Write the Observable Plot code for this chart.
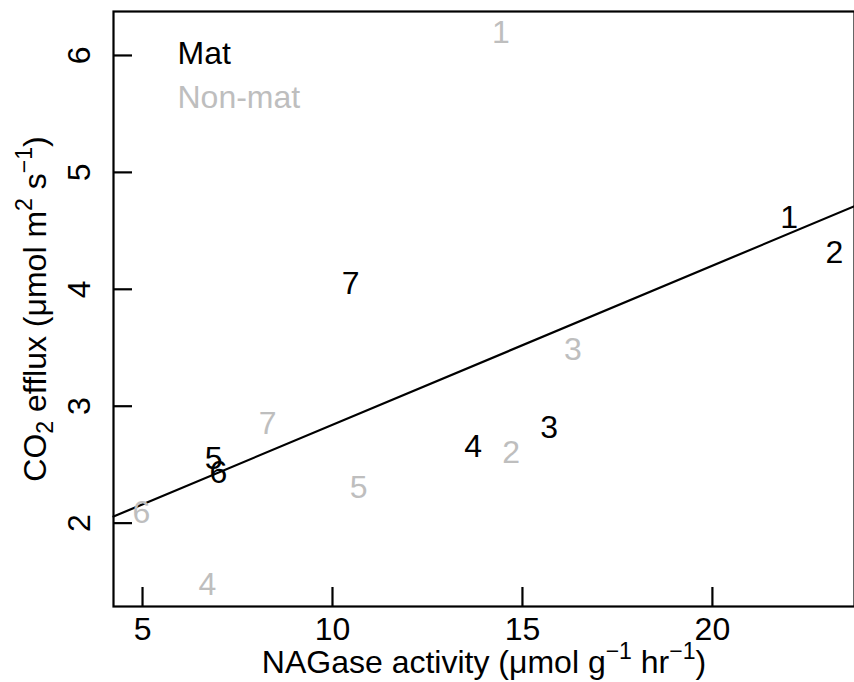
<!DOCTYPE html>
<html>
<head>
<meta charset="utf-8">
<script src="https://cdn.jsdelivr.net/npm/d3@7"></script>
<script src="https://cdn.jsdelivr.net/npm/@observablehq/plot@0.6"></script>
<style>
  html, body { margin: 0; padding: 0; background: #fff; }
  svg { display: block; }
</style>
</head>
<body>
<div id="chart"></div>
<script>
// ---- data ----
const matLabel = ["1", "2", "3", "4", "5", "6", "7"];
const matX = [22.02, 23.21, 15.70, 13.70, 6.87, 7.00, 10.48];
const matY = [4.61, 4.31, 2.82, 2.65, 2.55, 2.43, 4.05];

const nonLabel = ["1", "2", "3", "4", "5", "6", "7"];
const nonX = [14.43, 14.70, 16.33, 6.71, 10.69, 4.97, 8.29];
const nonY = [6.19, 2.60, 3.48, 1.47, 2.30, 2.09, 2.85];

const fitIntercept = 1.480;
const fitSlope = 0.1361;

const xDomain = [4.236, 23.74];
const yDomain = [1.287, 6.376];
const xTicks = [5, 10, 15, 20];
const yTicks = [2, 3, 4, 5, 6];

const groups = ["Mat", "Non-mat"];
const groupColors = ["#000000", "#bebebe"];

// axis titles: [text, kind] with kind "" | "sup" | "sub"
const xTitleParts = [["NAGase activity (\u03BCmol g", ""], ["\u22121", "sup"], [" hr", ""], ["\u22121", "sup"], [")", ""]];
const yTitleParts = [["CO", ""], ["2", "sub"], [" efflux (\u03BCmol m", ""], ["2", "sup"], [" s", ""], ["\u22121", "sup"], [")", ""]];

// ---- build tables ----
const points = [
  ...matLabel.map((l, i) => ({label: l, x: matX[i], y: matY[i], group: groups[0]})),
  ...nonLabel.map((l, i) => ({label: l, x: nonX[i], y: nonY[i], group: groups[1]}))
];
const fitLine = xDomain.map(x => ({x, y: fitIntercept + fitSlope * x}));
const xTitle = xTitleParts.map(p => p[0]).join("");
const yTitle = yTitleParts.map(p => p[0]).join("");

const W = 854, H = 682;
const mL = 113, mR = 0, mT = 11, mB = 76;
const frameH = H - mT - mB;
const tickLen = 19;
const titleSize = 32;

const chart = Plot.plot({
  width: W,
  height: H,
  marginLeft: mL,
  marginRight: mR,
  marginTop: mT,
  marginBottom: mB,
  style: {fontFamily: "'Liberation Sans', Arial, Helvetica, sans-serif", background: "#fff"},
  x: {domain: xDomain, axis: null},
  y: {domain: yDomain, axis: null},
  color: {domain: groups, range: groupColors},
  marks: [
    Plot.frame({stroke: "#000", strokeWidth: 2.2}),
    // inward ticks
    Plot.tickX(xTicks, {x: d => d, insetTop: frameH - tickLen, stroke: "#000", strokeWidth: 2.2}),
    Plot.tickY(yTicks, {y: d => d, insetRight: (W - mL - mR) - tickLen, stroke: "#000", strokeWidth: 2.2}),
    // tick labels
    Plot.text(xTicks, {x: d => d, text: d => String(d), frameAnchor: "bottom", dy: 23, lineAnchor: "middle", fontSize: 32, fill: "#000"}),
    Plot.text(yTicks, {y: d => d, text: d => String(d), frameAnchor: "left", dx: -34, rotate: -90, textAnchor: "middle", lineAnchor: "middle", fontSize: 32, fill: "#000"}),
    // axis titles
    Plot.text([xTitle], {text: d => d, frameAnchor: "bottom", dy: 56, lineAnchor: "middle", fontSize: titleSize, fill: "#000", className: "xtitle"}),
    Plot.text([yTitle], {text: d => d, frameAnchor: "left", dx: -78, rotate: -90, textAnchor: "middle", lineAnchor: "middle", fontSize: titleSize, fill: "#000", className: "ytitle"}),
    // regression line
    Plot.line(fitLine, {x: "x", y: "y", stroke: "#000", strokeWidth: 2.2}),
    // data labels
    Plot.text(points, {x: "x", y: "y", text: "label", fill: "group", fontSize: 32, lineAnchor: "middle", textAnchor: "middle"}),
    // legend
    Plot.text([groups[0]], {text: d => d, fill: d => d, frameAnchor: "top-left", dx: 64, dy: 42, textAnchor: "start", lineAnchor: "middle", fontSize: 32}),
    Plot.text([groups[1]], {text: d => d, fill: d => d, frameAnchor: "top-left", dx: 64, dy: 86, textAnchor: "start", lineAnchor: "middle", fontSize: 32})
  ]
});

// rebuild titles with real superscripts / subscripts
function richText(textEl, parts) {
  const sel = d3.select(textEl);
  sel.text(null);
  const small = titleSize * 0.72;
  let shift = 0;
  for (const [t, kind] of parts) {
    const target = kind === "sup" ? -titleSize * 0.42 : kind === "sub" ? titleSize * 0.22 : 0;
    const ts = sel.append("tspan").text(t);
    if (target !== shift) ts.attr("dy", target - shift);
    if (kind) ts.attr("font-size", small);
    shift = target;
  }
}
chart.querySelectorAll("text").forEach(el => {
  if (el.textContent === xTitle) richText(el, xTitleParts);
  else if (el.textContent === yTitle) richText(el, yTitleParts);
});

document.getElementById("chart").appendChild(chart);
</script>
</body>
</html>
